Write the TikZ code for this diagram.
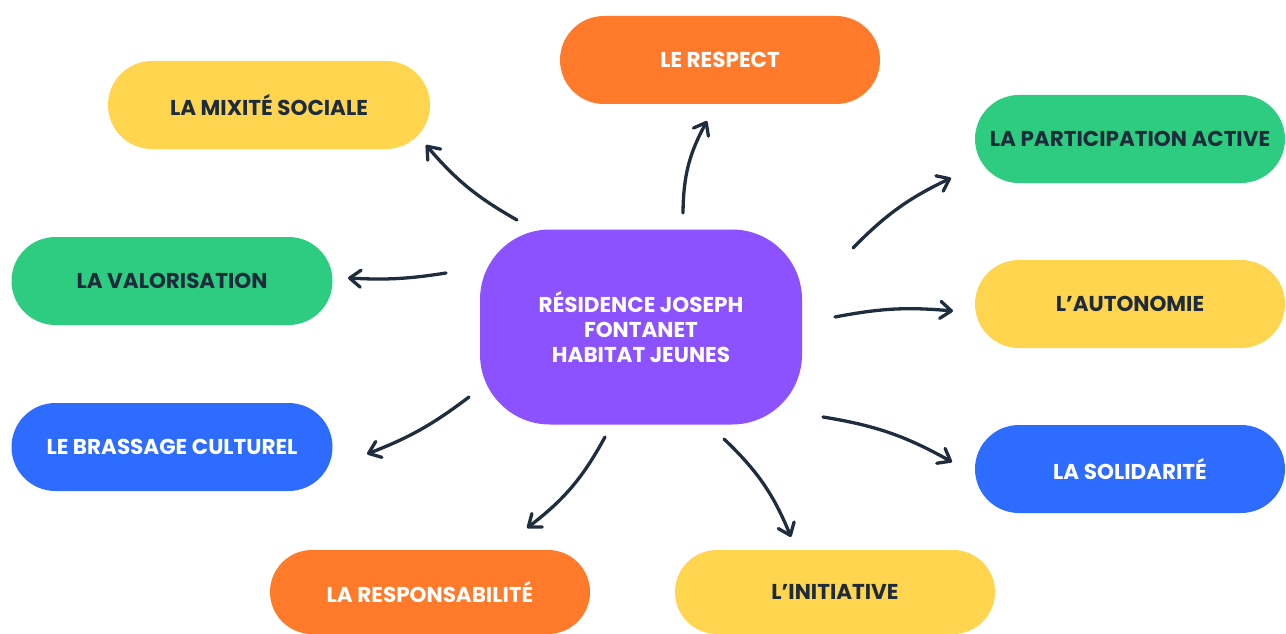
\documentclass[tikz,border=0pt]{standalone}
\usepackage{fontspec}
\setmainfont{Poppins}
\usetikzlibrary{arrows.meta}
\definecolor{cpurple}{HTML}{8C52FF}
\definecolor{corange}{HTML}{FF7A2B}
\definecolor{cyellow}{HTML}{FFD44F}
\definecolor{cgreen}{HTML}{2DCC80}
\definecolor{cblue}{HTML}{2D6CFF}
\definecolor{cdark}{HTML}{1E2B3A}
\definecolor{carrow}{HTML}{1F2E3E}
\tikzset{
  pill/.style={rectangle, rounded corners=44pt, minimum height=88pt, inner sep=0pt,
    font=\bfseries\fontsize{21.5}{24}\selectfont, align=center},
  darktext/.style={text=cdark},
  lighttext/.style={text=white},
  hub/.style={rectangle, rounded corners=70pt, fill=cpurple, text=white, inner sep=0pt,
    minimum width=322pt, minimum height=195pt, align=center,
    font=\bfseries\fontsize{21.5}{25}\selectfont},
  sketcharrow/.style={draw=carrow, line width=3.3pt, line cap=round, line join=round,
    -{Straight Barb[length=11pt,width=17pt,line cap=round,line join=round]}},
}
\begin{document}
\begin{tikzpicture}[x=1pt,y=-1pt]
\useasboundingbox (0,0) rectangle (1286,634);
\fill[white] (0,0) rectangle (1286,634);

\node[hub] (center) at (641,327) {RÉSIDENCE JOSEPH\\FONTANET\\HABITAT JEUNES};

\node[pill, fill=corange, lighttext, minimum width=320pt] (respect) at (720,60) {LE RESPECT};
\node[pill, fill=cyellow, darktext, minimum width=322pt] (mixite) at (269,105) {LA MIXITÉ SOCIALE};
\node[pill, fill=cgreen, darktext, minimum width=310pt] (participation) at (1130,139) {LA PARTICIPATION ACTIVE};
\node[pill, fill=cgreen, darktext, minimum width=321pt] (valorisation) at (172,281) {LA VALORISATION};
\node[pill, fill=cyellow, darktext, minimum width=310pt] (autonomie) at (1130,304) {L’AUTONOMIE};
\node[pill, fill=cblue, lighttext, minimum width=321pt] (brassage) at (172,447) {LE BRASSAGE CULTUREL};
\node[pill, fill=cblue, lighttext, minimum width=310pt] (solidarite) at (1130,469) {LA SOLIDARITÉ};
\node[pill, fill=corange, lighttext, minimum width=320pt, minimum height=84pt, rounded corners=42pt] (responsabilite) at (430,592) {LA RESPONSABILITÉ};
\node[pill, fill=cyellow, darktext, minimum width=320pt, minimum height=84pt, rounded corners=42pt] (initiative) at (835,592) {L’INITIATIVE};

% arrow end points
\coordinate (a1s) at (517,220); \coordinate (a1e) at (426,145);
\coordinate (a2s) at (683,213); \coordinate (a2e) at (707,121);
\coordinate (a3s) at (853,248); \coordinate (a3e) at (951,178);
\coordinate (a4s) at (835,317); \coordinate (a4e) at (953,311);
\coordinate (a5s) at (823,417); \coordinate (a5e) at (952,462);
\coordinate (a6s) at (724,439); \coordinate (a6e) at (791,537);
\coordinate (a7s) at (605,437); \coordinate (a7e) at (527,528);
\coordinate (a8s) at (469,397); \coordinate (a8e) at (367,454);
\coordinate (a9s) at (446,273); \coordinate (a9e) at (348,278);

\draw[sketcharrow] (a1s) to[bend left=10] (a1e);
\draw[sketcharrow] (a2s) to[bend left=14] (a2e);
\draw[sketcharrow] (a3s) to[bend left=10] (a3e);
\draw[sketcharrow] (a4s) to[bend left=8] (a4e);
\draw[sketcharrow] (a5s) to[bend left=10] (a5e);
\draw[sketcharrow] (a6s) to[bend left=12] (a6e);
\draw[sketcharrow] (a7s) to[bend left=12] (a7e);
\draw[sketcharrow] (a8s) to[bend left=8] (a8e);
\draw[sketcharrow] (a9s) to[bend left=6] (a9e);
\end{tikzpicture}
\end{document}
